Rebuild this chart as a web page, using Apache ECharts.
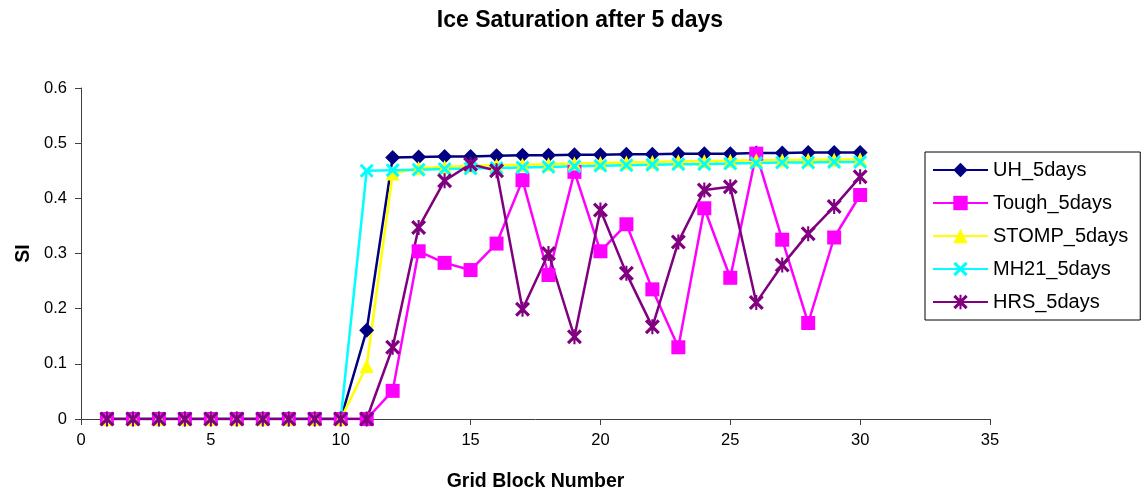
<!DOCTYPE html>
<html>
<head>
<meta charset="utf-8">
<title>Ice Saturation after 5 days</title>
<script src="https://cdn.jsdelivr.net/npm/echarts@6/dist/echarts.min.js"></script>
<style>
  html, body { margin: 0; padding: 0; background: #fff; }
  #chart { width: 1144px; height: 495px; }
</style>
</head>
<body>
<div id="chart"></div>
<script>
// Grid block numbers 1..30
const blocks = [1,2,3,4,5,6,7,8,9,10,11,12,13,14,15,16,17,18,19,20,21,22,23,24,25,26,27,28,29,30];

// Ice saturation per grid block for each simulator
const uh5 = [0,0,0,0,0,0,0,0,0,0,0.161,0.474,0.475,0.476,0.476,0.477,0.478,0.478,0.479,0.479,0.480,0.480,0.481,0.481,0.481,0.482,0.482,0.483,0.483,0.483];
const tough5 = [0,0,0,0,0,0,0,0,0,0,0,0.051,0.304,0.283,0.270,0.318,0.433,0.261,0.448,0.304,0.353,0.235,0.130,0.382,0.256,0.481,0.325,0.174,0.329,0.406];
const stomp5 = [0,0,0,0,0,0,0,0,0,0,0.096,0.445,0.455,0.457,0.459,0.460,0.461,0.462,0.463,0.464,0.465,0.466,0.467,0.467,0.468,0.469,0.469,0.470,0.470,0.471];
const mh21_5 = [0,0,0,0,0,0,0,0,0,0,0.450,0.451,0.452,0.453,0.454,0.455,0.456,0.457,0.458,0.459,0.460,0.461,0.462,0.462,0.463,0.464,0.465,0.465,0.466,0.466];
const hrs5 = [0,0,0,0,0,0,0,0,0,0,0,0.130,0.347,0.432,0.462,0.450,0.199,0.300,0.149,0.379,0.264,0.167,0.321,0.415,0.421,0.211,0.279,0.336,0.385,0.439];

const seriesNames = ['UH_5days', 'Tough_5days', 'STOMP_5days', 'MH21_5days', 'HRS_5days'];

// Cross and asterisk markers as filled outlines
const crossPath = 'path://M0,1.5 L1.5,0 L5,3.5 L8.5,0 L10,1.5 L6.5,5 L10,8.5 L8.5,10 L5,6.5 L1.5,10 L0,8.5 L3.5,5 Z';
const starPath = 'path://M0,1.5 L1.5,0 L5,3.5 L8.5,0 L10,1.5 L6.5,5 L10,8.5 L8.5,10 L5,6.5 L1.5,10 L0,8.5 L3.5,5 Z M4.3,0 L5.7,0 L5.7,10 L4.3,10 Z';

function pairs(values) {
  return blocks.map((b, i) => [b, values[i]]);
}

function lineSeries(name, values, color, symbol, size) {
  return {
    name: name,
    type: 'line',
    data: pairs(values),
    symbol: symbol,
    symbolSize: size,
    showAllSymbol: true,
    lineStyle: { color: color, width: 2.5 },
    itemStyle: { color: color },
    emphasis: { disabled: true },
    animation: false
  };
}

const chart = echarts.init(document.getElementById('chart'), null, { renderer: 'canvas' });
const font = 'Liberation Sans, Arial, sans-serif';

chart.setOption({
  backgroundColor: '#ffffff',
  animation: false,
  title: {
    text: 'Ice Saturation after 5 days',
    left: 575,
    textAlign: 'center',
    top: 4,
    textStyle: { fontFamily: font, fontSize: 23, fontWeight: 'bold', color: '#000' }
  },
  legend: {
    orient: 'vertical',
    left: 925,
    top: 152,
    padding: [8, 12, 8, 7],
    itemWidth: 55,
    itemHeight: 18,
    itemGap: 13,
    borderColor: '#000',
    borderWidth: 1,
    textStyle: { fontFamily: font, fontSize: 20, color: '#000' },
    data: seriesNames
  },
  grid: { left: 81, right: 154, top: 88, bottom: 76, containLabel: false, outerBoundsMode: 'none' },
  xAxis: {
    type: 'value',
    min: 0,
    max: 35,
    interval: 5,
    name: 'Grid Block Number',
    nameLocation: 'middle',
    nameGap: 53,
    nameTextStyle: { fontFamily: font, fontSize: 19.5, fontWeight: 'bold', color: '#000' },
    axisLine: { show: true, lineStyle: { color: '#404040', width: 1 } },
    axisTick: { show: true, length: 6, lineStyle: { color: '#404040' } },
    axisLabel: { fontFamily: font, fontSize: 16.5, color: '#000', margin: 13 },
    splitLine: { show: false }
  },
  yAxis: {
    type: 'value',
    min: 0,
    max: 0.6,
    interval: 0.1,
    name: 'SI',
    nameLocation: 'middle',
    nameGap: 28,
    nameTextStyle: { fontFamily: font, fontSize: 19.5, fontWeight: 'bold', color: '#000' },
    axisLine: { show: true, lineStyle: { color: '#404040', width: 1 } },
    axisTick: { show: true, length: 6, lineStyle: { color: '#404040' } },
    axisLabel: { fontFamily: font, fontSize: 16.5, color: '#000', margin: 14 },
    splitLine: { show: false }
  },
  series: [
    lineSeries('UH_5days', uh5, '#000080', 'diamond', 15),
    lineSeries('Tough_5days', tough5, '#FF00FF', 'rect', 14),
    lineSeries('STOMP_5days', stomp5, '#FFFF00', 'triangle', 14),
    lineSeries('MH21_5days', mh21_5, '#00FFFF', crossPath, 14),
    lineSeries('HRS_5days', hrs5, '#800080', starPath, 15)
  ]
});
</script>
</body>
</html>
